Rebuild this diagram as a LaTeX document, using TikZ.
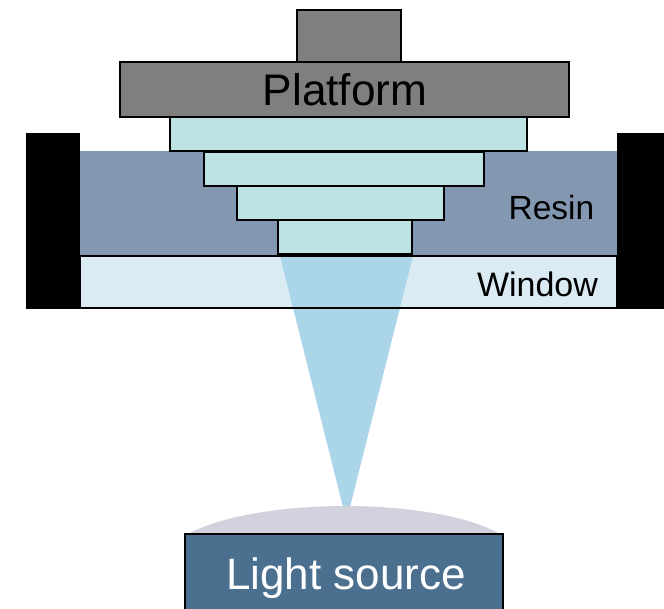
\documentclass[tikz,border=0pt]{standalone}
\usepackage{fontspec}
\setmainfont{Liberation Sans}
\definecolor{plategray}{HTML}{7F7F7F}
\definecolor{layercyan}{HTML}{BCE2E4}
\definecolor{resinblue}{HTML}{8497B0}
\definecolor{windowblue}{HTML}{DAEBF3}
\definecolor{beamblue}{HTML}{ABD5E8}
\definecolor{domegray}{HTML}{D2D1DE}
\definecolor{sourceblue}{HTML}{4A6F8F}

\begin{document}
\begin{tikzpicture}[x=1pt,y=-1pt]
        \tikzstyle{every node}=[rectangle,inner sep=0pt,outer sep=0pt,line width=1.6pt]
        \tikzstyle{plate}=[draw,fill=plategray]
        \tikzstyle{layer}=[draw,fill=layercyan]
        \tikzstyle{wall}=[fill=black]
        \useasboundingbox (0,0) rectangle (664,609);

        % vat
        \node[fill=resinblue,minimum width=537pt,minimum height=105pt] (resin) at (348.5,203.5) {};
        \node[fill=windowblue,minimum width=537pt,minimum height=52pt] (window) at (348.5,282) {};

        % light
        \fill[beamblue] (280,256) -- (413,256) -- (346.5,521) -- cycle;
        \draw[line width=1.6pt] (window.north west) rectangle (window.south east);
        \fill[domegray] (188,534) .. controls (225,514) and (290,506) .. (345,506)
                .. controls (400,506) and (465,514) .. (500,534) -- cycle;
        \node[draw,fill=sourceblue,minimum width=318pt,minimum height=88pt] (source) at (344,578) {};
        \node[text=white,font=\fontsize{44}{44}\selectfont] (sourcelabel) at (346,578) {Light source};

        \node[wall,minimum width=54pt,minimum height=176pt] (wallL) at (53,221) {};
        \node[wall,minimum width=47pt,minimum height=176pt] (wallR) at (640.5,221) {};

        % platform and part
        \node[plate,minimum width=104pt,minimum height=52pt] (stem) at (349,36) {};
        \node[plate,minimum width=449pt,minimum height=55pt] (platform) at (344.5,89.5) {};
        \node[font=\fontsize{44.2}{44}\selectfont] (platformlabel) at (345,90) {Platform};
        \node[layer,minimum width=357pt,minimum height=34pt] (layer1) at (348.5,134) {};
        \node[layer,minimum width=280pt,minimum height=34pt] (layer2) at (344,169) {};
        \node[layer,minimum width=207pt,minimum height=34pt] (layer3) at (340.5,203) {};
        \node[layer,minimum width=134pt,minimum height=34pt] (layer4) at (345,237) {};

        \node[font=\fontsize{33.5}{34}\selectfont] (resinlabel) at (551.5,208) {Resin};
        \node[font=\fontsize{34}{34}\selectfont] (windowlabel) at (537.5,284) {Window};
    \end{tikzpicture}
\end{document}
